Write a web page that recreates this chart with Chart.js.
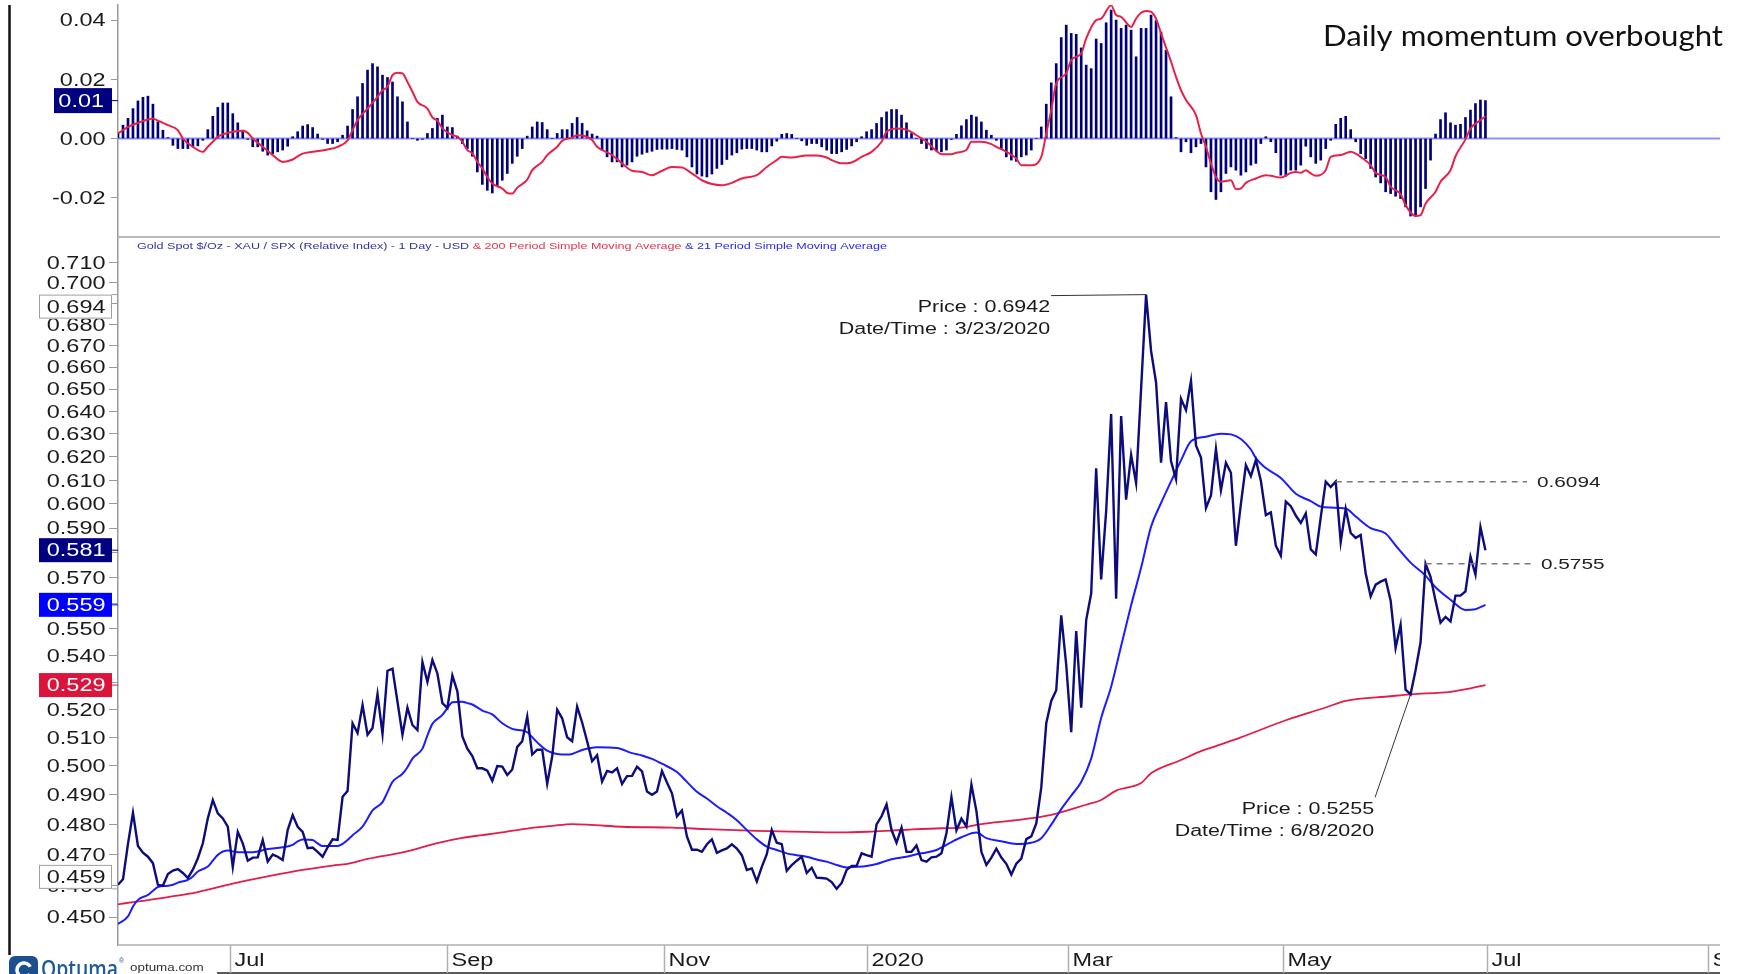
<!DOCTYPE html>
<html>
<head>
<meta charset="utf-8">
<title>Gold Spot / SPX relative index</title>
<script src="https://cdn.jsdelivr.net/npm/chart.js@4.4.1/dist/chart.umd.min.js"></script>
<style>
  html, body { margin: 0; padding: 0; background: #fff; }
  #wrap { position: relative; width: 1746px; height: 974px; overflow: hidden; background: #fff; }
  #top { position: absolute; left: 0; top: 0; }
  #bot { position: absolute; left: 0; top: 238px; }
</style>
</head>
<body>
<div id="wrap">
  <canvas id="top" width="1746" height="238"></canvas>
  <canvas id="bot" width="1746" height="736"></canvas>
</div>
<script>
// ---- Gold Spot $/Oz - XAU / SPX, daily closes (index = trading day from 30 May 2019) ----
const price = [
  0.4602,0.4620,0.4735,0.4839,0.4728,0.4706,0.4693,0.4672,0.4602,0.4599,
  0.4637,0.4648,0.4653,0.4640,0.4624,0.4651,0.4688,0.4737,0.4820,0.4882,
  0.4837,0.4820,0.4792,0.4660,0.4775,0.4737,0.4680,0.4690,0.4691,0.4748,
  0.4677,0.4700,0.4693,0.4682,0.4781,0.4831,0.4792,0.4775,0.4721,0.4723,
  0.4709,0.4693,0.4724,0.4750,0.4748,0.4893,0.4913,0.5150,0.5115,0.5216,
  0.5109,0.5133,0.5256,0.5112,0.5342,0.5350,0.5228,0.5109,0.5206,0.5144,
  0.5126,0.5375,0.5301,0.5382,0.5332,0.5223,0.5205,0.5324,0.5266,0.5103,
  0.5060,0.5034,0.4991,0.4991,0.4983,0.4948,0.4999,0.4997,0.4968,0.4987,
  0.5066,0.5086,0.5174,0.5039,0.5056,0.5056,0.4937,0.5032,0.5199,0.5168,
  0.5100,0.5086,0.5210,0.5153,0.5086,0.5016,0.5037,0.4945,0.4982,0.4977,
  0.4991,0.4937,0.4964,0.4965,0.4997,0.4980,0.4911,0.4900,0.4911,0.4982,
  0.4942,0.4905,0.4827,0.4847,0.4760,0.4716,0.4716,0.4709,0.4734,0.4750,
  0.4706,0.4714,0.4720,0.4734,0.4720,0.4698,0.4650,0.4655,0.4613,0.4660,
  0.4701,0.4781,0.4739,0.4734,0.4647,0.4666,0.4680,0.4693,0.4640,0.4657,
  0.4625,0.4624,0.4622,0.4611,0.4589,0.4608,0.4650,0.4663,0.4663,0.4704,
  0.4698,0.4693,0.4800,0.4827,0.4867,0.4781,0.4739,0.4789,0.4709,0.4709,
  0.4730,0.4682,0.4677,0.4691,0.4693,0.4704,0.4770,0.4892,0.4780,0.4819,
  0.4793,0.4935,0.4845,0.4709,0.4666,0.4690,0.4719,0.4690,0.4670,0.4635,
  0.4670,0.4687,0.4751,0.4760,0.4803,0.4925,0.5150,0.5231,0.5270,0.5552,
  0.5364,0.5118,0.5492,0.5206,0.5534,0.5637,0.6151,0.5693,0.5970,0.6388,
  0.5617,0.6379,0.6018,0.6209,0.6088,0.6500,0.6942,0.6675,0.6530,0.6175,
  0.6441,0.6181,0.6105,0.6456,0.6405,0.6537,0.6250,0.6197,0.5983,0.6036,
  0.6235,0.6058,0.6175,0.6132,0.5828,0.6000,0.6165,0.6118,0.6187,0.6098,
  0.5954,0.5965,0.5828,0.5788,0.6010,0.5991,0.5952,0.5921,0.5961,0.5813,
  0.5793,0.5944,0.6094,0.6071,0.6094,0.5843,0.5980,0.5880,0.5860,0.5872,
  0.5717,0.5626,0.5672,0.5684,0.5693,0.5610,0.5428,0.5516,0.5272,0.5255,
  0.5344,0.5449,0.5755,0.5703,0.5609,0.5524,0.5546,0.5529,0.5629,0.5629,
  0.5646,0.5784,0.5712,0.5904,0.5810
];

// 21 period simple moving average (trading-day index, value)
const sma21Idx = [0,2,3,4,6,7,8,10,11,12,14,15,16,18,19,20,22,24,27,30,33,35,36,37,39,40,41,44,45,46,47,49,50,51,53,54,55,57,58,59,61,62,63,65,66,67,69,70,71,73,75,77,79,81,82,84,86,88,90,91,93,96,100,103,105,107,109,112,114,116,118,120,122,124,126,128,130,132,134,136,138,140,142,144,146,148,150,152,154,156,158,160,162,164,166,167,169,172,174,177,180,183,185,187,189,191,193,195,197,199,201,203,205,207,209,211,213,215,218,221,223,225,227,228,230,233,236,239,241,243,246,248,251,254,256,259,262,264,267,270,272,274];
const sma21Val = [0.4478,0.4502,0.4533,0.4554,0.4570,0.4583,0.4595,0.4599,0.4602,0.4609,0.4618,0.4629,0.4645,0.4661,0.4680,0.4699,0.4713,0.4708,0.4708,0.4718,0.4724,0.4732,0.4743,0.4750,0.4748,0.4737,0.4728,0.4728,0.4735,0.4748,0.4764,0.4792,0.4819,0.4847,0.4875,0.4909,0.4944,0.4972,0.4995,0.5025,0.5060,0.5107,0.5148,0.5180,0.5205,0.5226,0.5228,0.5223,0.5218,0.5196,0.5182,0.5150,0.5130,0.5124,0.5118,0.5082,0.5053,0.5041,0.5039,0.5041,0.5055,0.5065,0.5062,0.5044,0.5036,0.5024,0.5007,0.4978,0.4944,0.4910,0.4887,0.4861,0.4839,0.4814,0.4781,0.4750,0.4726,0.4715,0.4704,0.4698,0.4693,0.4684,0.4677,0.4666,0.4658,0.4660,0.4663,0.4669,0.4680,0.4688,0.4693,0.4701,0.4707,0.4715,0.4732,0.4741,0.4757,0.4773,0.4754,0.4744,0.4735,0.4739,0.4754,0.4799,0.4851,0.4897,0.4944,0.5025,0.5169,0.5283,0.5435,0.5591,0.5739,0.5906,0.6004,0.6095,0.6185,0.6268,0.6288,0.6301,0.6298,0.6278,0.6232,0.6195,0.6152,0.6110,0.6043,0.6012,0.5989,0.5985,0.5981,0.5948,0.5900,0.5878,0.5829,0.5760,0.5708,0.5662,0.5613,0.5573,0.5576,0.5593];

// 200 period simple moving average
const sma200Idx = [0,10,16,23,30,37,43,46,50,57,64,69,73,77,82,87,91,95,101,111,118,128,138,145,151,158,165,169,173,180,187,194,197,200,205,207,213,217,220,225,234,242,246,255,259,267,271,274];
const sma200Val = [0.4540,0.4563,0.4579,0.4606,0.4629,0.4650,0.4664,0.4670,0.4686,0.4707,0.4738,0.4755,0.4764,0.4773,0.4786,0.4795,0.4801,0.4798,0.4792,0.4789,0.4784,0.4778,0.4775,0.4773,0.4776,0.4782,0.4787,0.4789,0.4801,0.4814,0.4832,0.4866,0.4882,0.4914,0.4940,0.4974,0.5020,0.5051,0.5069,0.5100,0.5161,0.5207,0.5231,0.5248,0.5255,0.5264,0.5277,0.5289];

// daily momentum histogram
const momentum = [
  0.0019,0.0045,0.0068,0.0101,0.0127,0.0139,0.0143,0.0116,0.0056,0.0028,
  0.0003,-0.0023,-0.0034,-0.0034,-0.0034,-0.0028,-0.0025,-0.0006,0.0030,0.0075,
  0.0105,0.0120,0.0120,0.0084,0.0053,0.0028,-0.0003,-0.0028,-0.0028,-0.0043,
  -0.0056,-0.0051,-0.0045,-0.0039,-0.0026,0.0006,0.0023,0.0042,0.0047,0.0037,
  0.0015,-0.0003,-0.0017,-0.0017,-0.0011,0.0011,0.0042,0.0098,0.0141,0.0186,
  0.0231,0.0253,0.0242,0.0214,0.0206,0.0191,0.0141,0.0124,0.0056,0.0000,
  -0.0006,-0.0003,0.0017,0.0034,0.0068,0.0079,0.0039,0.0037,0.0008,-0.0017,
  -0.0034,-0.0060,-0.0113,-0.0155,-0.0175,-0.0184,-0.0163,-0.0141,-0.0118,-0.0084,
  -0.0060,-0.0034,0.0008,0.0039,0.0056,0.0054,0.0030,0.0000,0.0017,0.0030,
  0.0030,0.0051,0.0071,0.0051,0.0026,0.0015,0.0008,-0.0039,-0.0062,-0.0079,
  -0.0079,-0.0096,-0.0090,-0.0079,-0.0060,-0.0053,-0.0047,-0.0043,-0.0037,-0.0036,
  -0.0036,-0.0034,-0.0037,-0.0039,-0.0062,-0.0096,-0.0120,-0.0127,-0.0130,-0.0120,
  -0.0101,-0.0088,-0.0071,-0.0056,-0.0048,-0.0036,-0.0034,-0.0034,-0.0039,-0.0045,
  -0.0045,-0.0025,-0.0009,0.0014,0.0017,0.0014,0.0000,-0.0008,-0.0023,-0.0017,
  -0.0017,-0.0028,-0.0039,-0.0051,-0.0051,-0.0045,-0.0037,-0.0025,-0.0011,0.0006,
  0.0023,0.0030,0.0051,0.0071,0.0090,0.0098,0.0098,0.0079,0.0053,0.0017,
  0.0000,-0.0017,-0.0034,-0.0039,-0.0042,-0.0045,-0.0039,-0.0003,0.0014,0.0043,
  0.0064,0.0079,0.0073,0.0056,0.0028,0.0011,-0.0006,-0.0034,-0.0062,-0.0073,
  -0.0077,-0.0062,-0.0056,-0.0039,0.0000,0.0039,0.0116,0.0188,0.0253,0.0341,
  0.0383,0.0355,0.0352,0.0306,0.0248,0.0236,0.0336,0.0321,0.0391,0.0434,
  0.0400,0.0372,0.0383,0.0366,0.0276,0.0372,0.0372,0.0417,0.0398,0.0360,
  0.0298,0.0141,0.0003,-0.0045,-0.0011,-0.0048,-0.0028,-0.0017,-0.0096,-0.0180,
  -0.0206,-0.0180,-0.0118,-0.0096,-0.0107,-0.0124,-0.0113,-0.0090,-0.0084,-0.0017,
  0.0006,-0.0011,-0.0048,-0.0124,-0.0127,-0.0107,-0.0107,-0.0090,-0.0026,-0.0062,
  -0.0084,-0.0073,-0.0034,-0.0006,0.0048,0.0068,0.0075,0.0030,-0.0011,-0.0051,
  -0.0068,-0.0101,-0.0130,-0.0150,-0.0180,-0.0186,-0.0195,-0.0203,-0.0231,-0.0262,
  -0.0262,-0.0231,-0.0169,-0.0073,0.0015,0.0064,0.0087,0.0053,0.0045,0.0048,
  0.0071,0.0096,0.0118,0.0130,0.0128
];

// momentum signal line
const sigIdx = [0,2,4,6,7,8,10,12,13,15,17,18,19,20,22,23,25,26,27,29,31,33,35,36,37,39,42,44,46,47,48,50,52,53,54,55,56,57,58,59,60,62,63,64,65,67,68,69,70,71,72,73,74,75,77,78,79,80,82,83,85,86,88,89,91,92,93,95,96,99,101,103,105,107,109,111,113,115,117,119,121,123,125,128,130,132,133,135,138,140,142,143,145,147,149,151,153,154,156,158,160,162,164,165,167,168,170,171,173,175,176,178,180,181,183,185,186,187,188,190,191,193,194,196,197,199,200,201,203,204,205,206,207,208,209,211,212,213,214,216,217,218,219,220,221,223,224,225,226,228,230,231,233,235,236,237,238,239,240,242,243,245,247,248,249,251,252,254,255,257,258,260,261,262,264,265,267,268,270,271,273,274];
const sigVal = [0.0017,0.0039,0.0053,0.0064,0.0068,0.0060,0.0045,0.0028,0.0000,-0.0028,-0.0045,-0.0028,-0.0011,0.0006,0.0019,0.0023,0.0026,0.0019,0.0000,-0.0028,-0.0056,-0.0079,-0.0071,-0.0060,-0.0051,-0.0045,-0.0037,-0.0028,-0.0006,0.0028,0.0062,0.0101,0.0141,0.0163,0.0175,0.0214,0.0222,0.0220,0.0191,0.0158,0.0124,0.0101,0.0071,0.0060,0.0034,0.0011,0.0006,-0.0011,-0.0039,-0.0050,-0.0079,-0.0101,-0.0130,-0.0152,-0.0169,-0.0184,-0.0186,-0.0166,-0.0139,-0.0107,-0.0079,-0.0056,-0.0028,-0.0008,0.0003,0.0011,0.0010,-0.0005,-0.0028,-0.0056,-0.0084,-0.0109,-0.0113,-0.0124,-0.0109,-0.0096,-0.0098,-0.0118,-0.0141,-0.0154,-0.0158,-0.0150,-0.0135,-0.0124,-0.0096,-0.0073,-0.0062,-0.0064,-0.0057,-0.0057,-0.0064,-0.0073,-0.0084,-0.0081,-0.0062,-0.0045,-0.0011,0.0023,0.0034,0.0030,0.0011,-0.0011,-0.0042,-0.0053,-0.0053,-0.0048,-0.0039,-0.0011,-0.0011,-0.0019,-0.0028,-0.0045,-0.0068,-0.0090,-0.0090,-0.0062,0.0017,0.0096,0.0186,0.0220,0.0265,0.0287,0.0338,0.0400,0.0405,0.0450,0.0417,0.0411,0.0377,0.0405,0.0425,0.0431,0.0428,0.0405,0.0355,0.0260,0.0208,0.0163,0.0130,0.0079,0.0017,-0.0028,-0.0084,-0.0130,-0.0146,-0.0141,-0.0171,-0.0169,-0.0150,-0.0135,-0.0124,-0.0126,-0.0132,-0.0116,-0.0113,-0.0116,-0.0107,-0.0118,-0.0126,-0.0107,-0.0062,-0.0056,-0.0045,-0.0051,-0.0062,-0.0090,-0.0116,-0.0130,-0.0163,-0.0188,-0.0225,-0.0262,-0.0259,-0.0220,-0.0180,-0.0146,-0.0107,-0.0060,-0.0003,0.0034,0.0062,0.0075];

// axis ticks and labels
const priceTicks = [0.45,0.46,0.47,0.48,0.49,0.50,0.51,0.52,0.53,0.54,0.55,0.56,0.57,0.58,0.59,0.60,0.61,0.62,0.63,0.64,0.65,0.66,0.67,0.68,0.69,0.70,0.71];
const momTicks = [-0.02, 0.00, 0.02, 0.04];
const monthIdx = [22.4, 65.9, 109.5, 150, 190.3, 233.5, 274.4, 318.5];
const monthLbl = ['Jul', 'Sep', 'Nov', '2020', 'Mar', 'May', 'Jul', 'Sep'];

// marked points and levels
const annIdx = [206, 259];
const annDate = ['3/23/2020', '6/8/2020'];
const levelIdx = [244, 262];

const legendParts = [
  ['Gold Spot $/Oz - XAU / SPX (Relative Index) - 1 Day - USD', '#34349e'],
  [' & 200 Period Simple Moving Average', '#e8334f'],
  [' & 21 Period Simple Moving Average', '#2a2aee']
];

// ---------------- drawing helpers ----------------
const X_MAX = 321;
const SX = 1.34;            // horizontal text stretch of the chart labels
const AX_PX = 17.5;
const SANS = '"Liberation Sans", Arial, sans-serif';

function capText(ctx, str, x, cy, px, color, align, sx, weight) {
  ctx.save();
  ctx.font = (weight ? weight + ' ' : '') + px + 'px ' + SANS;
  ctx.fillStyle = color;
  ctx.textBaseline = 'alphabetic';
  ctx.textAlign = 'left';
  const w = ctx.measureText(str).width * sx;
  const left = align === 'right' ? x - w : (align === 'center' ? x - w / 2 : x);
  ctx.translate(left, cy + px * 0.358);
  ctx.scale(sx, 1);
  ctx.fillText(str, 0, 0);
  ctx.restore();
  return w;
}

function fitText(ctx, str, x, baseline, font, color, width) {
  ctx.save();
  ctx.font = font;
  ctx.fillStyle = color;
  ctx.textBaseline = 'alphabetic';
  ctx.textAlign = 'left';
  const sx = width / ctx.measureText(str).width;
  ctx.translate(x, baseline);
  ctx.scale(sx, 1);
  ctx.fillText(str, 0, 0);
  ctx.restore();
}

function line(ctx, x1, y1, x2, y2, color, w, dash) {
  ctx.save();
  ctx.strokeStyle = color;
  ctx.lineWidth = w;
  if (dash) ctx.setLineDash(dash);
  ctx.beginPath();
  ctx.moveTo(x1, y1);
  ctx.lineTo(x2, y2);
  ctx.stroke();
  ctx.restore();
}

// ---------------- momentum panel ----------------
const topOverlay = {
  id: 'topOverlay',
  beforeDatasetsDraw(chart) {
    const { ctx, chartArea: a, scales: { y } } = chart;
    const y0 = y.getPixelForValue(0);
    line(ctx, a.left, y0, a.right, y0, '#8e8eff', 2);
  },
  afterDraw(chart) {
    const { ctx, chartArea: a, scales: { y } } = chart;
    line(ctx, 9.5, 5, 9.5, chart.height, '#111', 2.5);
    line(ctx, a.left, a.bottom - 1, a.right, a.bottom - 1, '#b9b9b9', 2);

    momTicks.forEach(v => capText(ctx, v.toFixed(2), 105.5, y.getPixelForValue(v), AX_PX, '#1a1a1a', 'right', SX));

    // last value tag
    const last = momentum[momentum.length - 1];
    const ly = y.getPixelForValue(last);
    ctx.save();
    ctx.fillStyle = '#000080';
    ctx.fillRect(54, ly - 12.5, 58, 25);
    ctx.restore();
    line(ctx, 112, ly, a.left, ly, '#000080', 1);
    capText(ctx, last.toFixed(2), 104, ly, AX_PX, '#ffffff', 'right', SX);

    fitText(ctx, 'Daily momentum overbought', 1323, 46, '28px Lato, "Open Sans", sans-serif', '#111', 400);
  }
};

new Chart(document.getElementById('top'), {
  type: 'bar',
  data: {
    datasets: [
      {
        type: 'line',
        label: 'Signal',
        data: sigIdx.map((d, k) => ({ x: d, y: sigVal[k] })),
        borderColor: '#e8214a',
        borderWidth: 2,
        pointRadius: 0,
        cubicInterpolationMode: 'monotone',
        order: 0
      },
      {
        type: 'bar',
        label: 'Momentum',
        data: momentum.map((v, i) => ({ x: i, y: v })),
        backgroundColor: '#00007a',
        barThickness: 2,
        order: 1
      }
    ]
  },
  options: {
    responsive: false,
    animation: false,
    devicePixelRatio: 1,
    layout: { padding: { left: 0, right: 26, top: 5, bottom: 0 } },
    plugins: { legend: { display: false }, tooltip: { enabled: false } },
    scales: {
      x: { type: 'linear', min: 0, max: X_MAX, offset: false, display: false },
      y: {
        type: 'linear',
        min: -0.03361,
        max: 0.04510,
        afterFit(s) { s.width = 118; },
        afterBuildTicks(s) { s.ticks = momTicks.map(v => ({ value: v })); },
        ticks: { display: false },
        grid: { drawOnChartArea: false, drawTicks: true, tickLength: 7, color: '#9a9a9a', lineWidth: 1 },
        border: { display: true, color: '#9a9a9a', width: 1.5 }
      }
    }
  },
  plugins: [topOverlay]
});

// ---------------- price panel ----------------
const OY = 238;
const P = v => v - OY;

const botOverlay = {
  id: 'botOverlay',
  afterDraw(chart) {
    const { ctx, chartArea: a, scales: { x, y } } = chart;

    line(ctx, 9.5, 0, 9.5, P(955), '#111', 2.5);

    // series legend
    ctx.save();
    ctx.font = '9.6px ' + SANS;
    let total = 0;
    legendParts.forEach(p => { total += ctx.measureText(p[0]).width; });
    ctx.restore();
    const lsx = 750 / total;
    let lx = 137;
    legendParts.forEach(p => { lx += capText(ctx, p[0], lx, P(246), 9.6, p[1], 'left', lsx); });

    // price axis labels
    priceTicks.forEach(v => capText(ctx, v.toFixed(3), 105.5, y.getPixelForValue(v), AX_PX, '#1a1a1a', 'right', SX));

    // value tags
    const tag = (val, text, fill, color, border, anchor, lineColor) => {
      const py = y.getPixelForValue(val);
      const h = 24;
      const top = anchor === 'top' ? py : (anchor === 'bottom' ? py - h : py - h / 2);
      ctx.save();
      ctx.fillStyle = fill;
      ctx.fillRect(39, top, 73, h);
      if (border) {
        ctx.strokeStyle = border;
        ctx.lineWidth = 1;
        ctx.strokeRect(39.5, top + 0.5, 72, h - 1);
      }
      ctx.restore();
      line(ctx, 112, py, a.left, py, lineColor, 1);
      capText(ctx, text, 105.5, top + h / 2, AX_PX, color, 'right', SX);
    };
    const hi = Math.max(...price), lo = Math.min(...price);
    tag(hi, hi.toFixed(3), '#ffffff', '#1a1a1a', '#a0a0a0', 'top', '#a0a0a0');
    tag(lo, lo.toFixed(3), '#ffffff', '#1a1a1a', '#a0a0a0', 'bottom', '#a0a0a0');
    const lastP = price[price.length - 1];
    const last21 = sma21Val[sma21Val.length - 1];
    const last200 = sma200Val[sma200Val.length - 1];
    tag(lastP, lastP.toFixed(3), '#000080', '#ffffff', null, 'center', '#000080');
    tag(last21, last21.toFixed(3), '#0000ff', '#ffffff', null, 'center', '#0000ff');
    tag(last200, last200.toFixed(3), '#dc143c', '#ffffff', null, 'center', '#dc143c');

    // price callouts
    const ink = '#1a1a1a';
    {
      const i = annIdx[0], v = price[i];
      const px = x.getPixelForValue(i), py = y.getPixelForValue(v);
      line(ctx, px - 95, py + 1, px, py, '#333', 1);
      capText(ctx, 'Price : ' + v.toFixed(4), px - 96, py + 12, 16, ink, 'right', SX);
      capText(ctx, 'Date/Time : ' + annDate[0], px - 96, py + 34, 16, ink, 'right', SX);
    }
    {
      const i = annIdx[1], v = price[i];
      const px = x.getPixelForValue(i), py = y.getPixelForValue(v);
      line(ctx, px - 35.5, py + 103, px, py, '#333', 1);
      capText(ctx, 'Price : ' + v.toFixed(4), px - 36.5, py + 114, 16, ink, 'right', SX);
      capText(ctx, 'Date/Time : ' + annDate[1], px - 36.5, py + 136, 16, ink, 'right', SX);
    }

    // horizontal levels
    const levelEnd = [1527, 1531];
    levelIdx.forEach((i, k) => {
      const v = price[i];
      const px = x.getPixelForValue(i), py = y.getPixelForValue(v);
      line(ctx, px, py, levelEnd[k], py, '#7a7a7a', 1.5, [6, 5]);
      capText(ctx, v.toFixed(4), levelEnd[k] + 10, py, 15.5, '#222', 'left', SX);
    });

    // date band
    line(ctx, a.left, a.bottom, a.right, a.bottom, '#b0b0b0', 1.5);
    line(ctx, 217, P(973), a.right, P(973), '#5a5a5a', 2);
    ctx.save();
    ctx.beginPath();
    ctx.rect(0, a.bottom, a.right, 40);
    ctx.clip();
    monthIdx.forEach((m, k) => {
      const px = Math.round(x.getPixelForValue(m)) + 0.5;
      line(ctx, px, a.bottom, px, P(973), '#b0b0b0', 1.5);
      capText(ctx, monthLbl[k], px + 4, P(960), AX_PX, '#1a1a1a', 'left', SX);
    });
    ctx.restore();

    // brand mark
    ctx.save();
    ctx.beginPath();
    ctx.rect(0, P(955), 216, 40);
    ctx.clip();
    ctx.fillStyle = '#1c4f8e';
    ctx.beginPath();
    ctx.roundRect(9, P(956), 29, 28, 6);
    ctx.fill();
    ctx.strokeStyle = '#ffffff';
    ctx.lineWidth = 3.5;
    ctx.beginPath();
    ctx.arc(24, P(970), 7, 0.2 * Math.PI, 1.85 * Math.PI);
    ctx.stroke();
    fitText(ctx, 'Optuma', 41, P(977), '600 24px "Open Sans", sans-serif', '#1f5a9a', 77);
    capText(ctx, '\u00AE', 119, P(960), 7, '#1f5a9a', 'left', 1);
    capText(ctx, 'optuma.com', 130, P(967), 10, '#333', 'left', SX);
    ctx.restore();
  }
};

new Chart(document.getElementById('bot'), {
  type: 'line',
  data: {
    datasets: [
      {
        label: '200 Period Simple Moving Average',
        data: sma200Idx.map((d, k) => ({ x: d, y: sma200Val[k] })),
        borderColor: '#e31d48',
        borderWidth: 1.8,
        pointRadius: 0,
        cubicInterpolationMode: 'monotone',
        order: 3
      },
      {
        label: '21 Period Simple Moving Average',
        data: sma21Idx.map((d, k) => ({ x: d, y: sma21Val[k] })),
        borderColor: '#1c1cff',
        borderWidth: 2,
        pointRadius: 0,
        cubicInterpolationMode: 'monotone',
        order: 2
      },
      {
        label: 'Gold Spot $/Oz - XAU / SPX',
        data: price.map((v, i) => ({ x: i, y: v })),
        borderColor: '#0c0c7c',
        borderWidth: 2.4,
        pointRadius: 0,
        tension: 0,
        order: 1
      }
    ]
  },
  options: {
    responsive: false,
    animation: false,
    devicePixelRatio: 1,
    layout: { padding: { left: 0, right: 26, top: 0, bottom: 29 } },
    plugins: { legend: { display: false }, tooltip: { enabled: false } },
    scales: {
      x: { type: 'linear', min: 0, max: X_MAX, display: false },
      y: {
        type: 'logarithmic',
        min: 0.44131,
        max: 0.72212,
        afterFit(s) { s.width = 118; },
        afterBuildTicks(s) { s.ticks = priceTicks.map(v => ({ value: v })); },
        ticks: { display: false },
        grid: { drawOnChartArea: false, drawTicks: true, tickLength: 9, color: '#9a9a9a', lineWidth: 1 },
        border: { display: true, color: '#9a9a9a', width: 1.5 }
      }
    }
  },
  plugins: [botOverlay]
});
</script>
</body>
</html>
